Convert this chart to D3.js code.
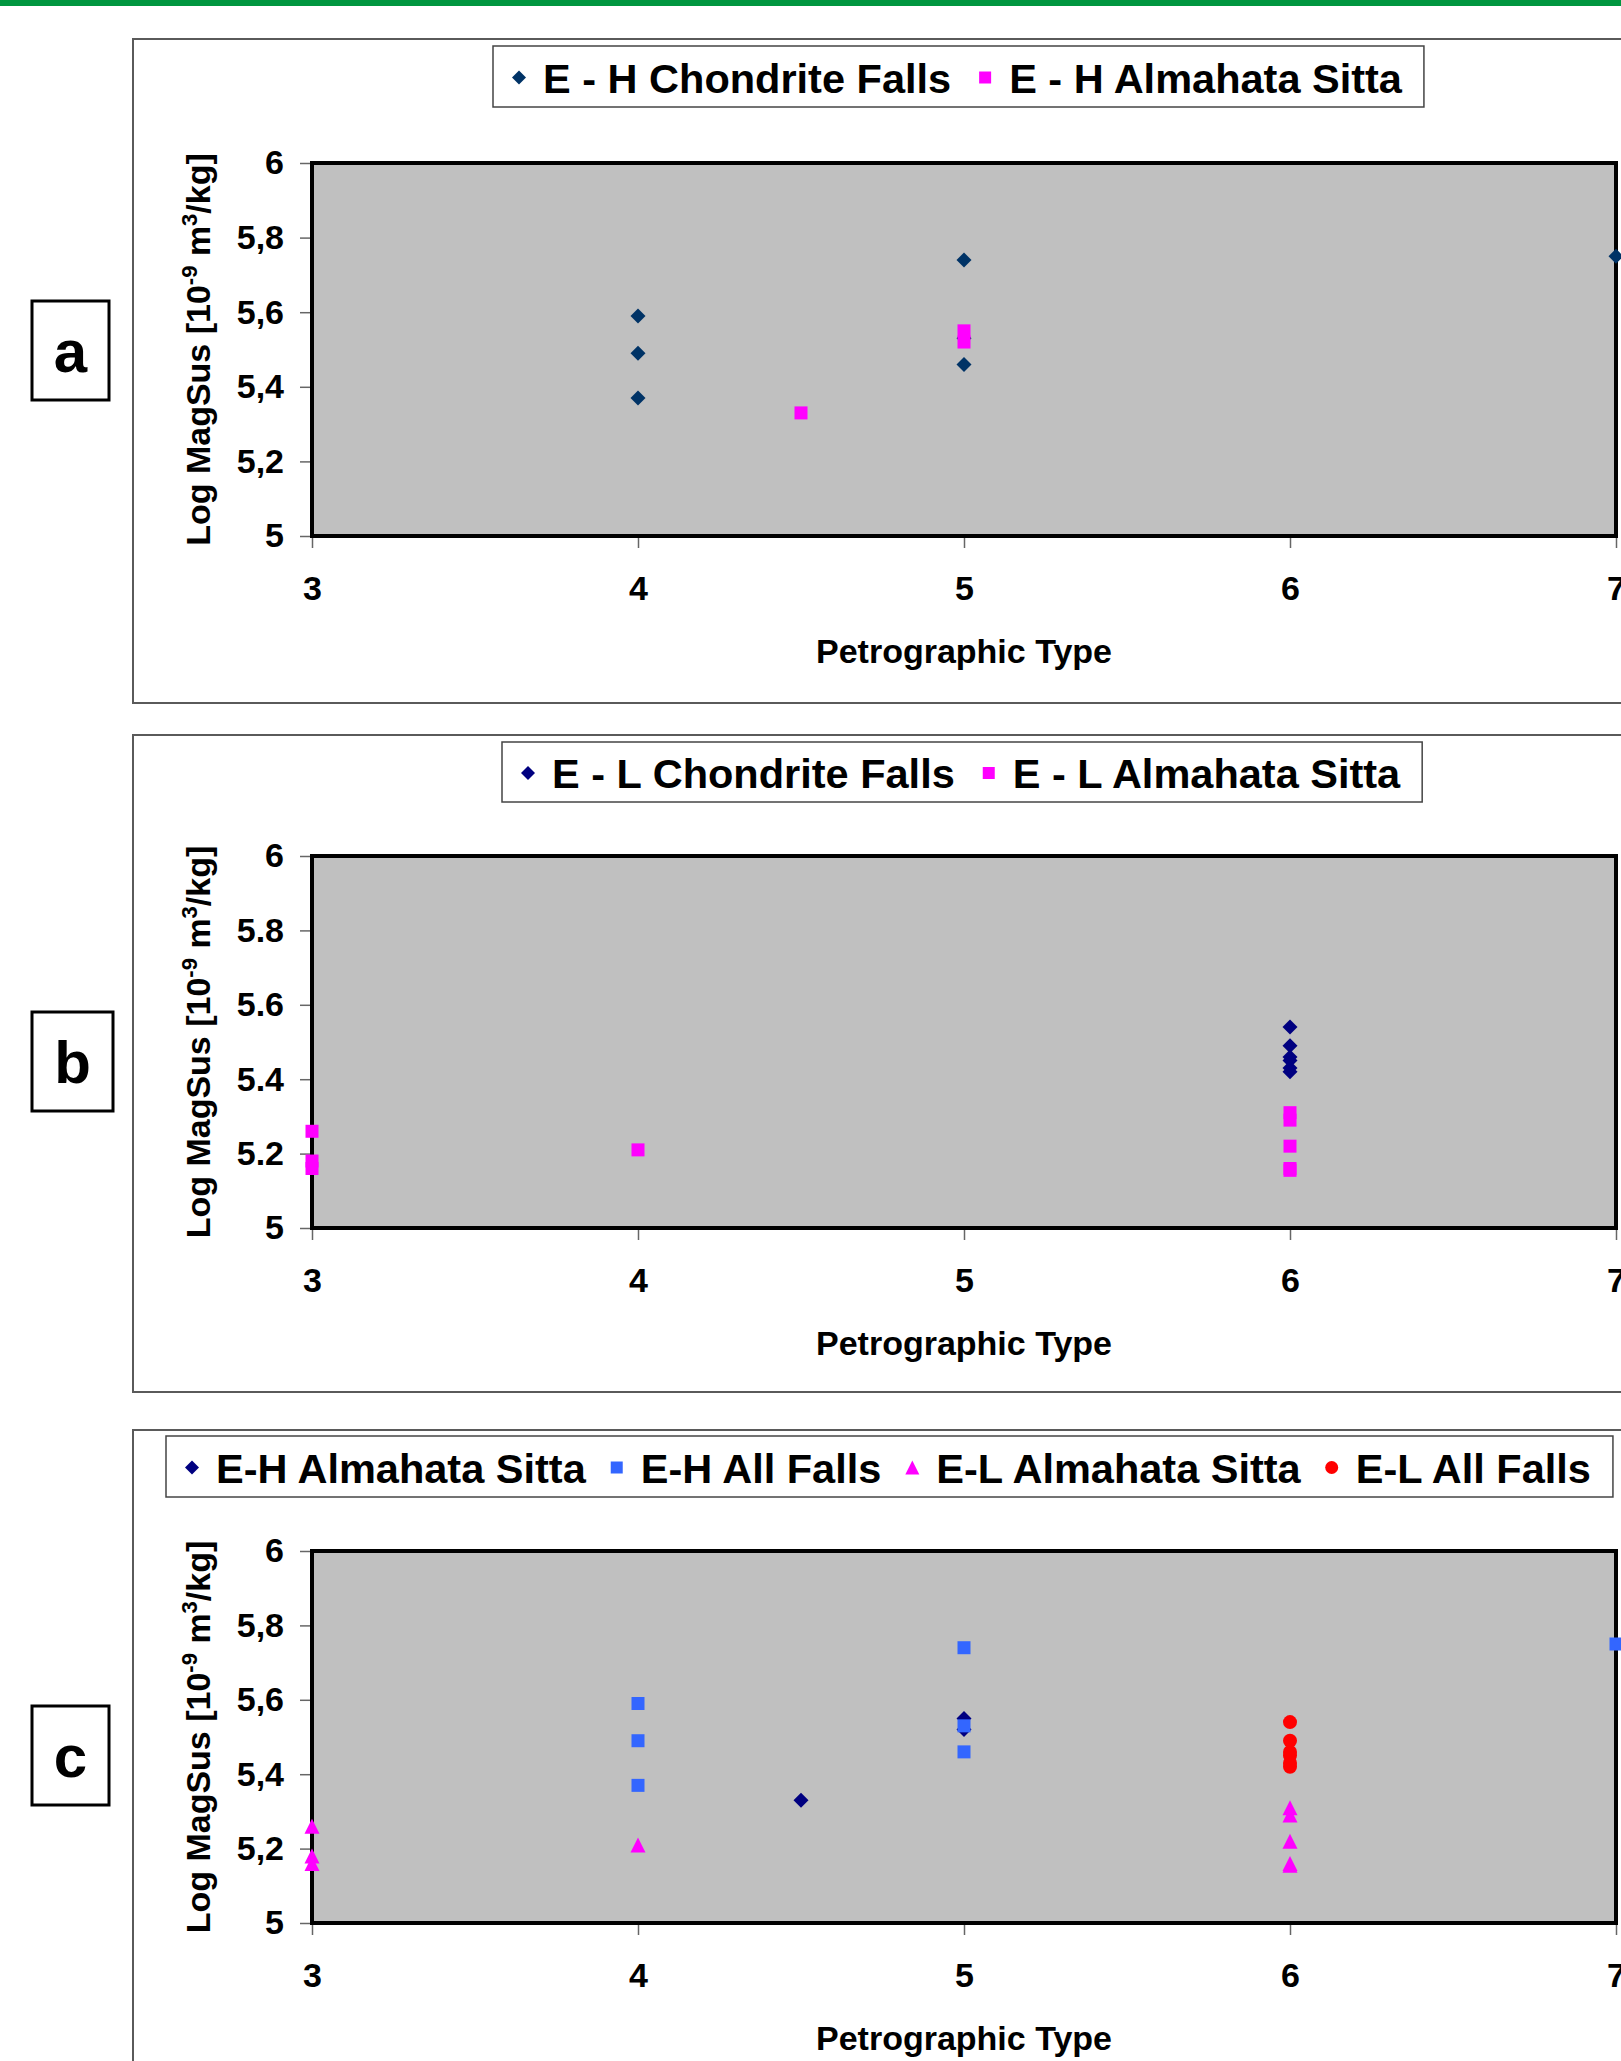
<!DOCTYPE html>
<html>
<head>
<meta charset="utf-8">
<script src="https://cdn.jsdelivr.net/npm/d3@7"></script>
<style>
  body { margin: 0; background: #fff; }
  svg text { font-family: "Liberation Sans", Arial, sans-serif; font-weight: bold; }
</style>
</head>
<body>
<svg id="chart"></svg>
<script>
// axis ticks
const xTicks = [3, 4, 5, 6, 7];
const yTicks = [5, 5.2, 5.4, 5.6, 5.8, 6];

// E-H chondrites (petrographic type, log magsus)
const ehFallsType = [4, 4, 4, 5, 5, 5, 7];
const ehFallsLog  = [5.59, 5.49, 5.37, 5.74, 5.53, 5.46, 5.75];
const ehSittaType = [4.5, 5, 5];
const ehSittaLog  = [5.33, 5.55, 5.52];

// E-L chondrites
const elFallsType = [6, 6, 6, 6, 6, 6];
const elFallsLog  = [5.54, 5.49, 5.46, 5.45, 5.43, 5.42];
const elSittaType = [3, 3, 3, 4, 6, 6, 6, 6, 6];
const elSittaLog  = [5.26, 5.18, 5.16, 5.21, 5.31, 5.29, 5.22, 5.16, 5.155];

const pts = (xs, ys) => xs.map((x, i) => ({x: x, y: ys[i]}));

const shapes = {
  diamond:  s => `M0,${-s}L${s},0L0,${s}L${-s},0Z`,
  square:   s => `M${-s},${-s}H${s}V${s}H${-s}Z`,
  triangle: s => `M0,${-s}L${s},${s}H${-s}Z`,
  circle:   s => `M${-s},0A${s},${s} 0 1,1 ${s},0A${s},${s} 0 1,1 ${-s},0Z`
};
const markSize = {diamond: 7.5, square: 6.5, triangle: 7.5, circle: 7};
const legendSize = {diamond: 7, square: 6, triangle: 7, circle: 6.5};

const W = 1621, H = 2061;
const plotLeft = 312, plotRight = 1616;

const panels = [
  {label: "a", frame: [39, 703], plot: [163, 536], box: [301, 400, 109],
   legend: {x: 493, y: 46, h: 61, gap: 34}, comma: true,
   series: [
     {name: "E - H Chondrite Falls", shape: "diamond", color: "#003366", data: pts(ehFallsType, ehFallsLog)},
     {name: "E - H Almahata Sitta", shape: "square", color: "#FF00FF", data: pts(ehSittaType, ehSittaLog)}
   ]},
  {label: "b", frame: [735, 1392], plot: [856, 1228], box: [1012, 1111, 113],
   legend: {x: 502, y: 742, h: 60, gap: 34}, comma: false,
   series: [
     {name: "E - L Chondrite Falls", shape: "diamond", color: "#000080", data: pts(elFallsType, elFallsLog)},
     {name: "E - L Almahata Sitta", shape: "square", color: "#FF00FF", data: pts(elSittaType, elSittaLog)}
   ]},
  {label: "c", frame: [1430, 2120], plot: [1551, 1923], box: [1706, 1805, 109],
   legend: {x: 166, y: 1436, h: 61, gap: 31}, comma: true,
   series: [
     {name: "E-H Almahata Sitta", shape: "diamond", color: "#000080", data: pts(ehSittaType, ehSittaLog)},
     {name: "E-H All Falls", shape: "square", color: "#3366FF", data: pts(ehFallsType, ehFallsLog)},
     {name: "E-L Almahata Sitta", shape: "triangle", color: "#FF00FF", data: pts(elSittaType, elSittaLog)},
     {name: "E-L All Falls", shape: "circle", color: "#FF0000", data: pts(elFallsType, elFallsLog)}
   ]}
];

const svg = d3.select("#chart").attr("width", W).attr("height", H);

svg.append("rect").attr("width", W).attr("height", 6).attr("fill", "#00963F");

panels.forEach(p => {
  const g = svg.append("g");
  const x = d3.scaleLinear().domain([3, 7]).range([plotLeft, plotRight]);
  const y = d3.scaleLinear().domain([5, 6]).range([p.plot[1], p.plot[0]]);

  // outer chart frame
  g.append("rect")
    .attr("x", 133).attr("y", p.frame[0])
    .attr("width", W).attr("height", p.frame[1] - p.frame[0])
    .attr("fill", "none").attr("stroke", "#5a5a5a").attr("stroke-width", 2);

  // panel letter box
  g.append("rect")
    .attr("x", 32).attr("y", p.box[0])
    .attr("width", p.box[2] - 32).attr("height", p.box[1] - p.box[0])
    .attr("fill", "#fff").attr("stroke", "#000").attr("stroke-width", 3);
  g.append("text")
    .attr("x", (32 + p.box[2]) / 2).attr("y", (p.box[0] + p.box[1]) / 2 + 21)
    .attr("text-anchor", "middle").attr("font-size", 60)
    .text(p.label);

  // plot area
  g.append("rect")
    .attr("x", plotLeft).attr("y", p.plot[0])
    .attr("width", plotRight - plotLeft).attr("height", p.plot[1] - p.plot[0])
    .attr("fill", "#C0C0C0").attr("stroke", "#000").attr("stroke-width", 4);

  const fmt = d => p.comma ? String(d).replace(".", ",") : String(d);

  const yAxis = g.append("g")
    .attr("transform", `translate(${plotLeft - 2},0)`)
    .call(d3.axisLeft(y).tickValues(yTicks).tickFormat(fmt).tickSize(10).tickPadding(16));
  const xAxis = g.append("g")
    .attr("transform", `translate(0,${p.plot[1] + 2})`)
    .call(d3.axisBottom(x).tickValues(xTicks).tickFormat(d3.format("d")).tickSize(10).tickPadding(28));

  [yAxis, xAxis].forEach(a => {
    a.attr("font-size", 34).attr("font-family", null);
    a.select(".domain").remove();
    a.selectAll(".tick line").attr("stroke", "#666").attr("stroke-width", 1.5);
    a.selectAll(".tick text").attr("fill", "#000");
  });

  // axis titles
  g.append("text")
    .attr("x", (plotLeft + plotRight) / 2).attr("y", p.plot[1] + 127)
    .attr("text-anchor", "middle").attr("font-size", 34)
    .text("Petrographic Type");

  const yt = g.append("text")
    .attr("transform", `translate(210,${(p.plot[0] + p.plot[1]) / 2}) rotate(-90)`)
    .attr("text-anchor", "middle").attr("font-size", 34);
  yt.append("tspan").text("Log MagSus [10");
  yt.append("tspan").attr("font-size", 22).attr("dy", -13).text("-9");
  yt.append("tspan").attr("dy", 13).text(" m");
  yt.append("tspan").attr("font-size", 22).attr("dy", -13).text("3");
  yt.append("tspan").attr("dy", 13).text("/kg]");

  // markers
  p.series.forEach(s => {
    g.append("g").selectAll("path")
      .data(s.data)
      .join("path")
      .attr("d", shapes[s.shape](markSize[s.shape]))
      .attr("transform", d => `translate(${x(d.x)},${y(d.y)})`)
      .attr("fill", s.color);
  });

  // legend
  const lg = g.append("g");
  const lbox = lg.append("rect")
    .attr("x", p.legend.x).attr("y", p.legend.y)
    .attr("height", p.legend.h)
    .attr("fill", "#fff").attr("stroke", "#444").attr("stroke-width", 1.5);
  const midY = p.legend.y + p.legend.h / 2;
  let cx = p.legend.x + 26;
  p.series.forEach((s, i) => {
    lg.append("path")
      .attr("d", shapes[s.shape](legendSize[s.shape]))
      .attr("transform", `translate(${cx},${midY + 1})`)
      .attr("fill", s.color);
    const t = lg.append("text")
      .attr("x", cx + 24).attr("y", midY + 16)
      .attr("font-size", 41.5)
      .text(s.name);
    const end = cx + 24 + t.node().getComputedTextLength();
    cx = end + p.legend.gap;
    if (i === p.series.length - 1) lbox.attr("width", Math.min(end + 22, 1614) - p.legend.x);
  });
});
</script>
</body>
</html>
